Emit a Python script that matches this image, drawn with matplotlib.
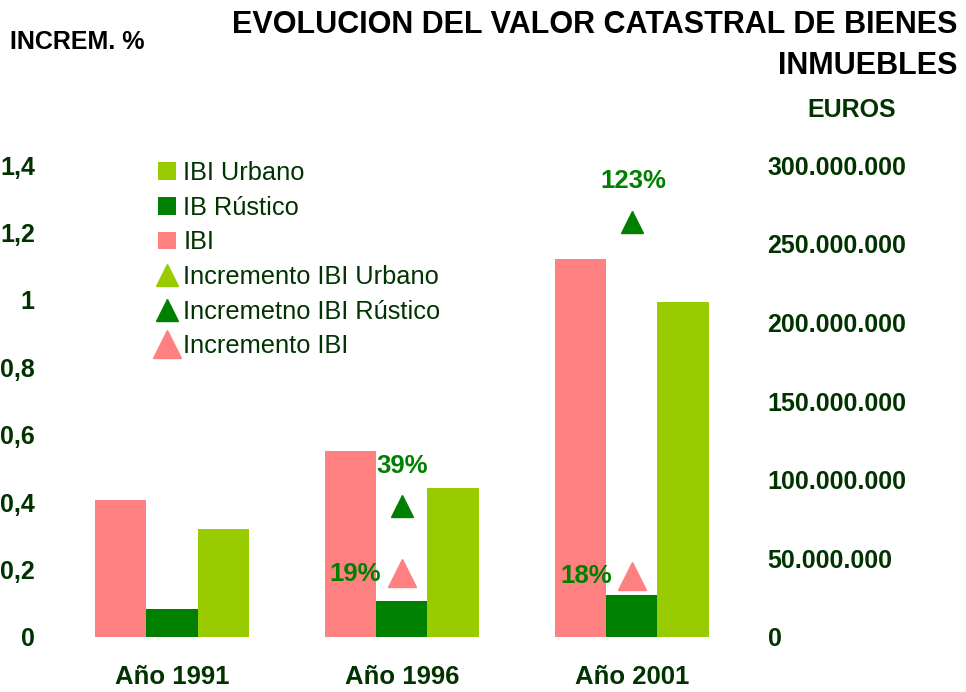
import matplotlib
matplotlib.use("Agg")
import matplotlib.pyplot as plt
from matplotlib.lines import Line2D
from matplotlib import font_manager
import numpy as np

# data
years = ["Año 1991", "Año 1996", "Año 2001"]
ibi = [87.1e6, 118.2e6, 240.3e6]
ibi_rustico = [17.8e6, 22.9e6, 26.7e6]
ibi_urbano = [68.6e6, 94.7e6, 212.9e6]

# increments (left axis), only shown where the chart shows them
inc_rustico = [np.nan, 0.39, 1.23]
inc_ibi = [np.nan, 0.19, 0.18]
inc_rustico_labels = ["", "39%", "123%"]
inc_ibi_labels = ["", "19%", "18%"]

left_ticks = [0, 0.2, 0.4, 0.6, 0.8, 1.0, 1.2, 1.4]
right_ticks = [0, 50e6, 100e6, 150e6, 200e6, 250e6, 300e6]

c_pink = "#FF8080"
c_dark = "#008000"
c_light = "#99CC00"
c_text = "#003300"

names = {f.name for f in font_manager.fontManager.ttflist}
base = "Liberation Sans" if "Liberation Sans" in names else "DejaVu Sans"
plt.rcParams["font.family"] = [base, "DejaVu Sans"]

fig = plt.figure(figsize=(9.66, 6.92), dpi=100)
ax = fig.add_axes([0.059, 0.0795, 0.714, 0.682])
ax2 = ax.twinx()

x = np.arange(len(years))
w = 0.223
ax2.bar(x - w, ibi, w, color=c_pink, label="IBI")
ax2.bar(x, ibi_rustico, w, color=c_dark, label="IB Rústico")
ax2.bar(x + w, ibi_urbano, w, color=c_light, label="IBI Urbano")

ax.set_zorder(ax2.get_zorder() + 1)
ax.patch.set_visible(False)
ax.plot(x, inc_rustico, linestyle="none", marker="^", markersize=16.5,
        color=c_dark, label="Incremetno IBI Rústico")
ax.plot(x, inc_ibi, linestyle="none", marker="^", markersize=19.5,
        color=c_pink, label="Incremento IBI")

# percent labels
lab_kw = dict(textcoords="offset pixels", ha="center", va="center",
              fontsize=18.5, fontweight="bold", color=c_dark)
ax.annotate(inc_rustico_labels[1], (x[1], inc_rustico[1]), xytext=(0, 40), **lab_kw)
ax.annotate(inc_rustico_labels[2], (x[2], inc_rustico[2]), xytext=(2, 41), **lab_kw)
ax.annotate(inc_ibi_labels[1], (x[1], inc_ibi[1]), xytext=(-47, -1), **lab_kw)
ax.annotate(inc_ibi_labels[2], (x[2], inc_ibi[2]), xytext=(-46, 0), **lab_kw)

ax.set_xlim(-0.5, 2.5)
ax.set_ylim(0, 1.4)
ax2.set_ylim(0, 300e6)

ax.set_yticks(left_ticks)
ax.set_yticklabels([f"{t:g}".replace(".", ",") for t in left_ticks])
ax2.set_yticks(right_ticks)
ax2.set_yticklabels([f"{int(t):,}".replace(",", ".") for t in right_ticks])
ax.set_xticks(x)
ax.set_xticklabels(years)

for a in (ax, ax2):
    for s in a.spines.values():
        s.set_visible(False)
ax.tick_params(axis="y", length=0, pad=16, labelsize=18, labelcolor=c_text)
ax2.tick_params(axis="y", length=0, pad=15, labelsize=18, labelcolor=c_text)
ax.tick_params(axis="x", length=0, pad=20, labelsize=18.5, labelcolor=c_text)
for lab in ax.get_yticklabels() + ax2.get_yticklabels() + ax.get_xticklabels():
    lab.set_fontweight("bold")

# legend
h_bars, l_bars = ax2.get_legend_handles_labels()
h_mk, l_mk = ax.get_legend_handles_labels()
urb_proxy = Line2D([], [], linestyle="none", marker="^", markersize=16.5,
                   color=c_light)
handles = [h_bars[2], h_bars[1], h_bars[0], urb_proxy, h_mk[0], h_mk[1]]
labels = ["IBI Urbano", "IB Rústico", "IBI", "Incremento IBI Urbano",
          l_mk[0], l_mk[1]]
leg = ax.legend(handles, labels, loc="upper left",
                bbox_to_anchor=(158 / 966, 1 - 161 / 692),
                bbox_transform=fig.transFigure, frameon=False, fontsize=18.3,
                handlelength=0.7, handleheight=0.7, handletextpad=0.3,
                labelspacing=0.42, borderpad=0, borderaxespad=0)
for t in leg.get_texts():
    t.set_color(c_text)

# titles
fig.text(958 / 966, 1 - 25 / 692, "EVOLUCION DEL VALOR CATASTRAL DE BIENES",
         ha="right", va="center", fontsize=22, fontweight="bold", color="black")
fig.text(958 / 966, 1 - 66 / 692, "INMUEBLES", ha="right", va="center",
         fontsize=22, fontweight="bold", color="black")
fig.text(10 / 966, 1 - 42 / 692, "INCREM. %", ha="left", va="center",
         fontsize=18, fontweight="bold", color="black")
fig.text(852 / 966, 1 - 110 / 692, "EUROS", ha="center", va="center",
         fontsize=18, fontweight="bold", color=c_text)

fig.savefig("out.png", dpi=100)
